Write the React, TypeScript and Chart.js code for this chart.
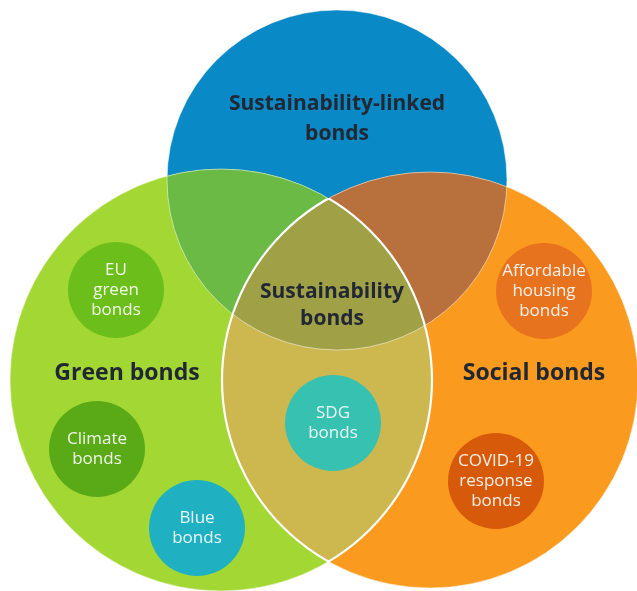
import React, { useEffect, useRef } from "react";
import { Chart, registerables } from "chart.js";

Chart.register(...registerables);

// Big sets (Venn circles)
const setNames = ["Sustainability-linked bonds", "Green bonds", "Social bonds"];
const setX = [337, 221, 430];
const setY = [180, 380, 380];
const setR = [170, 211, 208];
const setLabelLines = [["Sustainability-linked", "bonds"], ["Green bonds"], ["Social bonds"]];
const setLabelX = [337, 127, 534];
const setLabelY = [104, 373, 373];
const setLabelSize = [21, 23, 23];

// Intersection label
const coreLabelLines = ["Sustainability", "bonds"];
const coreLabelX = 332;
const coreLabelY = 292;

// Sub-categories (small circles)
const subNames = [
  ["EU", "green", "bonds"],
  ["Climate", "bonds"],
  ["Blue", "bonds"],
  ["SDG", "bonds"],
  ["Affordable", "housing", "bonds"],
  ["COVID-19", "response", "bonds"],
];
const subX = [116, 97, 197, 333, 544, 496];
const subY = [290, 449, 528, 423, 291, 481];
const subR = [48, 48, 48, 48, 48, 48];
const subColors = ["#6cbe1a", "#5aaa18", "#1fb0c2", "#36c1b1", "#e8731e", "#d65a09"];

const W = 637;
const H = 591;
// Chart.js pads the chart area by the largest bubble radius; shift the axis range to keep 1 unit = 1 px
const PAD = Math.max(...subR);

const COL_BLUE = "#0a89c7";
const COL_GREEN = "#a3d733";
const COL_ORANGE = "#fa9a1f";
const COL_GB = "#6aba45";
const COL_OB = "#b8703c";
const COL_GO = "#cdb84f";
const COL_ALL = "#a0a146";
const TEXT_DARK = "#222833";
const FONT = "'Open Sans', Lato, 'DejaVu Sans', sans-serif";

const vennPlugin = {
  id: "venn",
  beforeDatasetsDraw(chart: any) {
    const ctx = chart.ctx;
    const xs = chart.scales.x;
    const ys = chart.scales.y;
    const circ = setX.map((x, i) => {
      const px = xs.getPixelForValue(x);
      const py = ys.getPixelForValue(setY[i]);
      const pr = Math.abs(xs.getPixelForValue(x + setR[i]) - px);
      return { px, py, pr };
    });
    const path = (i: number) => {
      ctx.beginPath();
      ctx.arc(circ[i].px, circ[i].py, circ[i].pr, 0, Math.PI * 2);
    };
    const fillIn = (clips: number[], target: number, color: string) => {
      ctx.save();
      clips.forEach((c) => {
        path(c);
        ctx.clip();
      });
      path(target);
      ctx.fillStyle = color;
      ctx.fill();
      ctx.restore();
    };
    ctx.save();
    fillIn([], 0, COL_BLUE);
    fillIn([], 1, COL_GREEN);
    fillIn([], 2, COL_ORANGE);
    fillIn([1], 0, COL_GB);
    fillIn([2], 0, COL_OB);
    fillIn([1], 2, COL_GO);
    fillIn([1, 2], 0, COL_ALL);
    ctx.lineWidth = 1;
    ctx.strokeStyle = "rgba(255,255,255,0.5)";
    [0, 1, 2].forEach((i) => {
      path(i);
      ctx.stroke();
    });
    ctx.lineWidth = 2.2;
    ctx.strokeStyle = "#ffffff";
    ctx.save();
    path(2);
    ctx.clip();
    path(1);
    ctx.stroke();
    ctx.restore();
    ctx.save();
    path(1);
    ctx.clip();
    path(2);
    ctx.stroke();
    ctx.restore();
    ctx.restore();
  },
  afterDatasetsDraw(chart: any) {
    const ctx = chart.ctx;
    const xs = chart.scales.x;
    const ys = chart.scales.y;
    ctx.save();
    ctx.textAlign = "center";
    ctx.textBaseline = "middle";
    ctx.fillStyle = TEXT_DARK;
    setLabelLines.forEach((lines, i) => {
      ctx.font = "bold " + setLabelSize[i] + "px " + FONT;
      lines.forEach((ln, j) => {
        ctx.fillText(ln, xs.getPixelForValue(setLabelX[i]), ys.getPixelForValue(setLabelY[i] + j * 30));
      });
    });
    ctx.font = "bold 21px " + FONT;
    coreLabelLines.forEach((ln, j) => {
      ctx.fillText(ln, xs.getPixelForValue(coreLabelX), ys.getPixelForValue(coreLabelY + j * 27));
    });
    ctx.fillStyle = "rgba(255,255,255,0.9)";
    ctx.font = "17px " + FONT;
    subNames.forEach((lines, i) => {
      const n = lines.length;
      lines.forEach((ln, j) => {
        const y = subY[i] + (j - (n - 1) / 2) * 20;
        ctx.fillText(ln, xs.getPixelForValue(subX[i]), ys.getPixelForValue(y));
      });
    });
    ctx.restore();
  },
};

export default function App() {
  const ref = useRef<HTMLCanvasElement>(null);
  useEffect(() => {
    document.body.style.margin = "0";
    const chart = new Chart(ref.current!, {
      type: "bubble",
      data: {
        datasets: [
          {
            label: "Sub-categories",
            data: subX.map((x, i) => ({ x, y: subY[i], r: subR[i] })),
            backgroundColor: subColors,
            borderWidth: 0,
            hoverBorderWidth: 0,
            clip: false as any,
          },
        ],
      },
      options: {
        responsive: false,
        animation: false,
        layout: { padding: 0 },
        plugins: { legend: { display: false }, tooltip: { enabled: false } },
        events: [],
        scales: {
          x: { type: "linear", min: PAD, max: W - PAD, display: false },
          y: { type: "linear", min: PAD, max: H - PAD, reverse: true, display: false },
        },
      },
      plugins: [vennPlugin],
    });
    return () => chart.destroy();
  }, []);
  return (
    <div style={{ width: W, height: H, background: "#fff" }}>
      <canvas ref={ref} width={W} height={H} />
    </div>
  );
}
